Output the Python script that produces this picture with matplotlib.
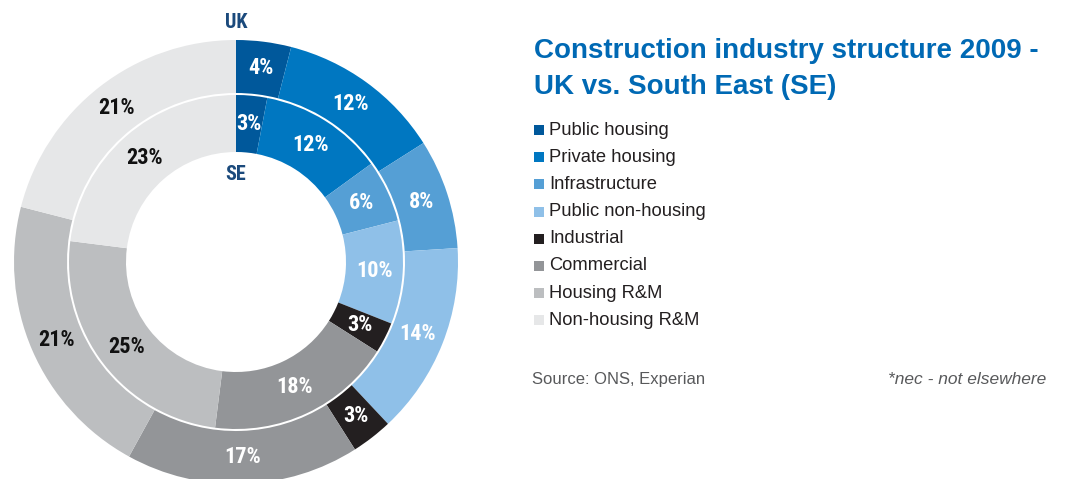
import matplotlib
matplotlib.use("Agg")
import matplotlib.pyplot as plt
from matplotlib import font_manager

W, H = 1068, 479

categories = [
    "Public housing",
    "Private housing",
    "Infrastructure",
    "Public non-housing",
    "Industrial",
    "Commercial",
    "Housing R&M",
    "Non-housing R&M",
]
uk_share = [4, 12, 8, 14, 3, 17, 21, 21]
se_share = [3, 12, 6, 10, 3, 18, 25, 23]

colors = ["#00589b", "#0077c1", "#559fd5", "#8fc0e8",
          "#231f20", "#939598", "#bcbec0", "#e6e7e8"]
label_colors = ["white"] * 6 + ["#111111"] * 2

# pick a narrow bold face if one is there
installed = {f.name for f in font_manager.fontManager.ttflist}
narrow_name = next((n for n in ["Liberation Sans Narrow", "DejaVu Sans Condensed",
                                "Roboto Condensed", "Liberation Sans"]
                    if n in installed), "DejaVu Sans")
narrow = [narrow_name, "DejaVu Sans"]
narrow_is_narrow = narrow_name in ("Liberation Sans Narrow", "DejaVu Sans Condensed",
                                   "Roboto Condensed")
lab_size = 16 if narrow_is_narrow else 13
tag_size = 14.5 if narrow_is_narrow else 12.5
sans = ["Liberation Sans", "DejaVu Sans"]

fig = plt.figure(figsize=(W / 100, H / 100), dpi=100)
ax = fig.add_axes([0, 0, 1, 1])

cx, cy = 236, H - 262


def y(v):
    return H - v


# outer ring = UK, inner ring = SE
outer, _, outer_txt = ax.pie(
    uk_share, radius=222, center=(cx, cy), colors=colors, startangle=90,
    counterclock=False, autopct=lambda p: f"{round(p)}%", pctdistance=0.88,
    wedgeprops=dict(width=53, linewidth=0),
)
inner, _, inner_txt = ax.pie(
    se_share, radius=167, center=(cx, cy), colors=colors, startangle=90,
    counterclock=False, autopct=lambda p: f"{round(p)}%", pctdistance=0.83,
    wedgeprops=dict(width=57, linewidth=0),
)
for txts in (outer_txt, inner_txt):
    for t, c in zip(txts, label_colors):
        t.set_color(c)
        t.set_fontsize(lab_size)
        t.set_fontweight("bold")
        t.set_family(narrow)

ax.text(cx, y(22), "UK", ha="center", va="center", fontsize=tag_size,
        fontweight="bold", color="#1b4a7c", family=narrow)
ax.text(cx, y(174), "SE", ha="center", va="center", fontsize=tag_size,
        fontweight="bold", color="#1b4a7c", family=narrow)

# title
ax.text(534, y(58), "Construction industry structure 2009 -", fontsize=20,
        fontweight="bold", color="#0069b4", family=sans, va="baseline")
ax.text(534, y(94), "UK vs. South East (SE)", fontsize=20,
        fontweight="bold", color="#0069b4", family=sans, va="baseline")

# legend
for i, (name, col) in enumerate(zip(categories, colors)):
    yy = 130 + i * 27.2
    ax.add_patch(plt.Rectangle((534, y(yy) - 5), 10, 10, color=col, lw=0))
    ax.text(549, y(yy), name, fontsize=13.2, color="#231f20", family=sans,
            va="center")

ax.text(532, y(384), "Source: ONS, Experian", fontsize=12, color="#58595b",
        family=sans, va="baseline")
ax.text(888, y(384), "*nec - not elsewhere", fontsize=12.5,
        color="#58595b", family=sans, style="italic", va="baseline")

ax.set_xlim(0, W)
ax.set_ylim(0, H)
ax.set_aspect("auto")
ax.axis("off")

fig.savefig("out.png", dpi=100)
